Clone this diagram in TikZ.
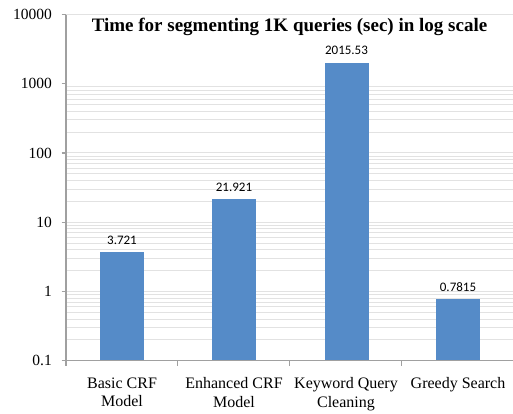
\documentclass[tikz,border=0pt]{standalone}
\usepackage{fontspec}
\setmainfont{Liberation Serif}
\newfontfamily\datafont{Carlito}
\definecolor{barblue}{HTML}{558BC8}
\definecolor{gridgray}{HTML}{E2E2E2}
\definecolor{axisgray}{HTML}{A0A0A0}
\tikzset{
  grid line/.style={draw=gridgray, line width=1pt},
  axis line/.style={draw=axisgray, line width=1.2pt},
  bar/.style={fill=barblue, draw=none},
  ylab/.style={anchor=east, inner sep=0pt, font=\fontsize{15.5}{17}\selectfont},
  catlab/.style={anchor=north, inner sep=0pt, align=center, font=\fontsize{16}{18.5}\selectfont},
  datalab/.style={anchor=base, inner sep=0pt, font=\datafont\fontsize{13}{15}\selectfont},
}
\begin{document}
\begin{tikzpicture}[x=1pt,y=-1pt]
\useasboundingbox (0,0) rectangle (513,413);
\fill[white] (0,0) rectangle (513,413);
% minor/major grid
\foreach \e in {0,...,3}{
  \foreach \k in {1,...,9}{
    \pgfmathsetmacro\yy{360.7-69.24*(\e+log10(\k))}
    \draw[grid line] (66,\yy) -- (513,\yy);
  }
}
\draw[grid line] (66,14.5) -- (513,14.5);
% bars
\fill[bar] (100,360.7) rectangle (144,251.9);
\fill[bar] (212,360.7) rectangle (256,198.6);
\fill[bar] (324.5,360.7) rectangle (368.5,62.7);
\fill[bar] (436,360.7) rectangle (480,298.9);
% axes
\draw[axis line] (66,14.5) -- (66,360.7);
\draw[axis line] (66,360.7) -- (513,360.7);
\foreach \yy in {14.5,83.74,152.98,222.22,291.46,360.7}{
  \draw[axis line] (61.5,\yy) -- (66,\yy);
}
\foreach \xx in {66,177.5,289.5,401.5}{
  \draw[axis line] (\xx,360.7) -- (\xx,365.5);
}
% y labels
\node[ylab] (y4) at (52,14.5) {10000};
\node[ylab] (y3) at (52,83.74) {1000};
\node[ylab] (y2) at (52,152.98) {100};
\node[ylab] (y1) at (52,222.22) {10};
\node[ylab] (y0) at (52,291.46) {1};
\node[ylab] (ym) at (52,360.7) {0.1};
% data labels
\node[datalab] (d1) at (122,244) {3.721};
\node[datalab] (d2) at (234,191) {21.921};
\node[datalab] (d3) at (346.5,54) {2015.53};
\node[datalab] (d4) at (458,291) {0.7815};
% category labels
\node[catlab] (c1) at (122,377.5) {Basic CRF\\Model};
\node[catlab] (c2) at (234,377.5) {Enhanced CRF\\Model};
\node[catlab] (c3) at (346,377.5) {Keyword Query\\Cleaning};
\node[catlab] (c4) at (458,377.5) {Greedy Search};
% title
\node[font=\bfseries\fontsize{19}{21}\selectfont, inner sep=0pt] (title) at (289.5,27) {Time for segmenting 1K queries (sec) in log scale};
\end{tikzpicture}
\end{document}
